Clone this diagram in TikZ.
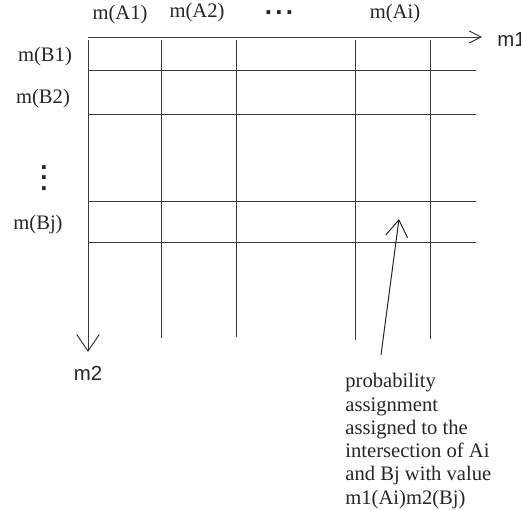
\documentclass[tikz,border=0pt]{standalone}
\usepackage{fontspec}
\setmainfont{Liberation Serif}
\setsansfont{Liberation Sans}
\usetikzlibrary{arrows.meta}
\definecolor{ink}{HTML}{262626}
\definecolor{gridgray}{HTML}{3A3A3A}

\begin{document}
\begin{tikzpicture}[x=0.5pt,y=-0.5pt,
axis/.style={draw=gridgray,line width=0.5pt,-{Straight Barb[length=8.3pt,width=11.3pt]}},shortaxis/.style={draw=gridgray,line width=0.5pt,-{Straight Barb[length=5.8pt,width=6pt]}},gridline/.style={draw=gridgray,line width=0.5pt},pointer/.style={draw=ink,line width=0.5pt,-{Straight Barb[length=8.3pt,width=11pt]}},masslabel/.style={text=ink,inner sep=0pt,font=\fontsize{10.3}{12}\selectfont},axislabel/.style={text=ink,inner sep=0pt,font=\sffamily\fontsize{10.2}{12}\selectfont},dotlabel/.style={text=ink,inner sep=0pt,align=center,font=\sffamily\bfseries\fontsize{13}{5.25}\selectfont},notebox/.style={text=ink,inner sep=0pt,align=left,anchor=north west,font=\fontsize{10.3}{11.65}\selectfont}]
\useasboundingbox (0,0) rectangle (521,510);
\coordinate (O) at (88,37); \coordinate (Oleft) at (88,40);
\coordinate (m1end) at (482,37); \coordinate (m2end) at (88,352);
\foreach \y in {70,114.3,201.7,242.7}{\draw[gridline] (88,\y)--(475.7,\y);}
\foreach \x/\ybot in {161.7/337.7,236.7/336.7,355.7/340,430.7/339}{\draw[gridline] (\x,40)--(\x,\ybot);}
\draw[shortaxis] (O)--(m1end);
\draw[axis] (Oleft)--(m2end);
\node[masslabel] (mA1) at (120,15) {m(A1)};
\node[masslabel] (mA2) at (197,13) {m(A2)};
\node[dotlabel] (hdots) at (279,13) {.\hspace{1.6pt}.\hspace{1.6pt}.};
\node[masslabel] (mAi) at (395,14) {m(Ai)};
\node[masslabel] (mB1) at (45,57) {m(B1)};
\node[masslabel] (mB2) at (43,99) {m(B2)};
\node[dotlabel] (vdots) at (44,178) {.\\.\\.};
\node[masslabel] (mBj) at (38,225) {m(Bj)};
\node[axislabel,anchor=base west] (m1) at (497,46) {m1};
\node[axislabel] (m2) at (88,373) {m2};
\node[notebox] (note) at (345,373) {probability\\assignment\\assigned to the\\intersection of Ai\\and Bj with value\\m1(Ai)m2(Bj)};
\coordinate (tail) at (381,355); \coordinate (cellAiBj) at (399,219);
\draw[pointer] (tail)--(cellAiBj);
\end{tikzpicture}
\end{document}
